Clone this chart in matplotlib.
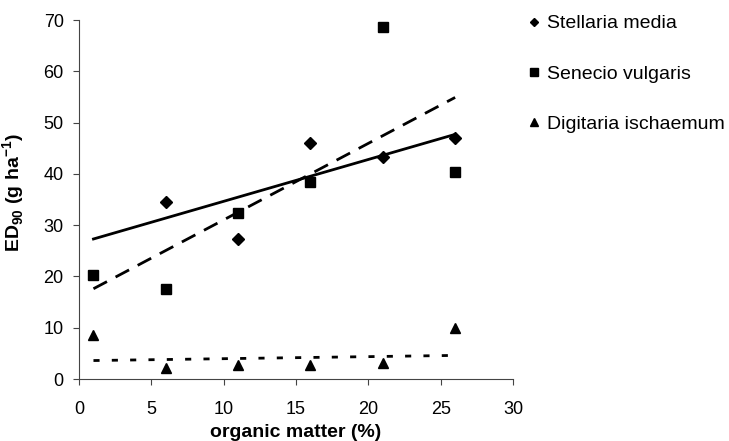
import matplotlib
import matplotlib.pyplot as plt
matplotlib.use("agg")

plt.rcParams["font.family"] = ["Liberation Sans", "DejaVu Sans"]
plt.rcParams["mathtext.fontset"] = "custom"
plt.rcParams["mathtext.rm"] = "Liberation Sans"
plt.rcParams["mathtext.bf"] = "Liberation Sans:bold"

organic_matter = [1, 6, 11, 16, 21, 26]
stellaria_x = [6, 11, 16, 21, 26]
stellaria = [34.5, 27.3, 46.0, 43.3, 47.0]
senecio = [20.2, 17.5, 32.3, 38.5, 68.7, 40.4]
digitaria = [8.6, 2.2, 2.8, 2.8, 3.2, 9.9]

# trend lines as drawn in the original (values at x = 1 and 26)
trend_x = [1, 26]
stellaria_trend = [27.3, 47.7]
senecio_trend = [17.6, 54.9]
digitaria_trend = [3.6, 4.6]

labels = ["Stellaria media", "Senecio vulgaris", "Digitaria ischaemum"]

fig = plt.figure(figsize=(7.29, 4.41), dpi=100)
ax = fig.add_axes([79 / 729, 1 - 379 / 441, 434 / 729, 359 / 441])

ax.plot(stellaria_x, stellaria, "kD", ms=6, label=labels[0])
ax.plot(organic_matter, senecio, "ks", ms=7, label=labels[1])
ax.plot(organic_matter, digitaria, "k^", ms=7.5, label=labels[2])

ax.plot(trend_x, stellaria_trend, "k-", lw=2)
ax.plot(trend_x, senecio_trend, color="k", lw=2, dashes=(5.5, 3.5))
ax.plot(trend_x, digitaria_trend, color="k", lw=2, dashes=(2.2, 4.4))

ax.set_xlim(0, 30)
ax.set_ylim(0, 70)
ax.set_xticks(range(0, 31, 5))
ax.set_yticks(range(0, 71, 10))
ax.tick_params(labelsize=13, direction="out", length=4, color="#444444")
ax.tick_params(axis="x", pad=12)
ax.tick_params(axis="y", pad=7)
for s in ["top", "right"]:
    ax.spines[s].set_visible(False)
for s in ["left", "bottom"]:
    ax.spines[s].set_color("#444444")

ax.set_xlabel("organic matter (%)", fontsize=14, fontweight="bold")
ax.set_ylabel("ED$_{\\mathbf{90}}$ (g ha$^{\\mathbf{-1}}$)", fontsize=14,
              fontweight="bold")
ax.xaxis.set_label_coords(0.5, -0.126)
ax.yaxis.set_label_coords(-0.12, 0.52)

leg = ax.legend(loc="upper left", bbox_to_anchor=(1.02, 1.036), frameon=False,
                fontsize=14, markerscale=0.75, handlelength=0.5,
                handletextpad=0.4, labelspacing=1.67, borderaxespad=0)

fig.savefig("out.png", dpi=100)
